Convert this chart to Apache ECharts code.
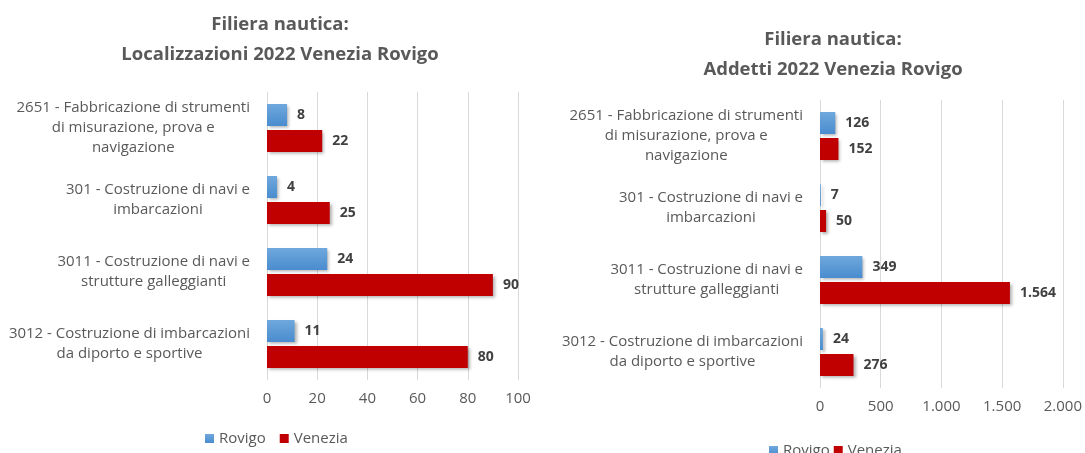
<!DOCTYPE html>
<html>
<head>
<meta charset="utf-8">
<script src="https://cdn.jsdelivr.net/npm/echarts@6/dist/echarts.min.js"></script>
<style>
  html, body { margin: 0; padding: 0; background: #fff; }
  #main { width: 1085px; height: 453px; }
</style>
</head>
<body>
<div id="main"></div>
<script>
var categories = [
    '2651 - Fabbricazione di strumenti\ndi misurazione, prova e\nnavigazione',
    '301 - Costruzione di navi e\nimbarcazioni',
    '3011 - Costruzione di navi e\nstrutture galleggianti',
    '3012 - Costruzione di imbarcazioni\nda diporto e sportive'
];
var seriesNames = ['Rovigo', 'Venezia'];
var locRovigo = [8, 4, 24, 11];
var locVenezia = [22, 25, 90, 80];
var addRovigo = [126, 7, 349, 24];
var addVenezia = [152, 50, 1564, 276];

var fontFam = '"Open Sans", "Liberation Sans", sans-serif';
var textGrey = '#595959';
var blue = new echarts.graphic.LinearGradient(0, 0, 0, 1, [
    { offset: 0, color: '#6fa8dc' },
    { offset: 1, color: '#4a8ccf' }
]);
var red = '#c00000';

var fmtNum = function (v) {
    return String(v).replace(/\B(?=(\d{3})+(?!\d))/g, '.');
};

// each line centred inside the right-aligned label block
var catLabel = function (value) {
    return value.split('\n').map(function (l) { return '{c|' + l + '}'; }).join('\n');
};

var makeY = function (gridIndex) {
    return {
        type: 'category',
        gridIndex: gridIndex,
        data: categories,
        inverse: true,
        axisLine: { show: false },
        axisTick: { show: false },
        axisLabel: {
            margin: 17,
            formatter: catLabel,
            rich: {
                c: { align: 'center', fontFamily: fontFam, fontSize: 15, color: textGrey, lineHeight: 20 }
            }
        }
    };
};

var makeX = function (gridIndex, max, interval) {
    return {
        type: 'value',
        gridIndex: gridIndex,
        min: 0,
        max: max,
        interval: interval,
        axisLine: { show: false },
        axisTick: { show: false },
        splitLine: { lineStyle: { color: '#d9d9d9' } },
        axisLabel: {
            margin: 11,
            color: textGrey,
            fontFamily: fontFam,
            fontSize: 15,
            formatter: function (v) { return fmtNum(v); }
        }
    };
};

var makeBar = function (name, data, color, idx) {
    return {
        name: name,
        type: 'bar',
        xAxisIndex: idx,
        yAxisIndex: idx,
        data: data,
        barWidth: 22,
        barGap: '18%',
        itemStyle: {
            color: color,
            shadowBlur: 3,
            shadowOffsetX: 2,
            shadowOffsetY: 2,
            shadowColor: 'rgba(0,0,0,0.3)'
        },
        label: {
            show: true,
            position: 'right',
            distance: 10,
            fontFamily: fontFam,
            fontWeight: 'bold',
            fontSize: 14,
            color: '#404040',
            formatter: function (p) { return fmtNum(p.value); }
        }
    };
};

var titleStyle = { fontFamily: fontFam, fontWeight: 'bold', fontSize: 18.5, color: textGrey, lineHeight: 30 };
var legendText = { fontFamily: fontFam, fontSize: 15, color: textGrey };

var myChart = echarts.init(document.getElementById('main'));
myChart.setOption({
    animation: false,
    backgroundColor: '#fff',
    title: [
        {
            text: 'Filiera nautica:\nLocalizzazioni 2022 Venezia Rovigo',
            left: 275,
            top: 5,
            textAlign: 'center',
            textStyle: titleStyle
        },
        {
            text: 'Filiera nautica:\nAddetti 2022 Venezia Rovigo',
            left: 828,
            top: 20,
            textAlign: 'center',
            textStyle: titleStyle
        }
    ],
    legend: [
        {
            data: seriesNames,
            left: 200,
            top: 426,
            icon: 'rect',
            itemWidth: 9,
            itemHeight: 9,
            itemGap: 14,
            textStyle: legendText,
            selectedMode: false
        },
        {
            data: seriesNames,
            left: 764,
            top: 438,
            icon: 'rect',
            itemWidth: 9,
            itemHeight: 9,
            itemGap: 4,
            textStyle: legendText,
            selectedMode: false
        }
    ],
    grid: [
        { left: 267, right: 567, top: 92, height: 288 },
        { left: 820, right: 17, top: 100, height: 288 }
    ],
    xAxis: [makeX(0, 100, 20), makeX(1, 2000, 500)],
    yAxis: [makeY(0), makeY(1)],
    series: [
        makeBar('Rovigo', locRovigo, blue, 0),
        makeBar('Venezia', locVenezia, red, 0),
        makeBar('Rovigo', addRovigo, blue, 1),
        makeBar('Venezia', addVenezia, red, 1)
    ]
});
</script>
</body>
</html>
